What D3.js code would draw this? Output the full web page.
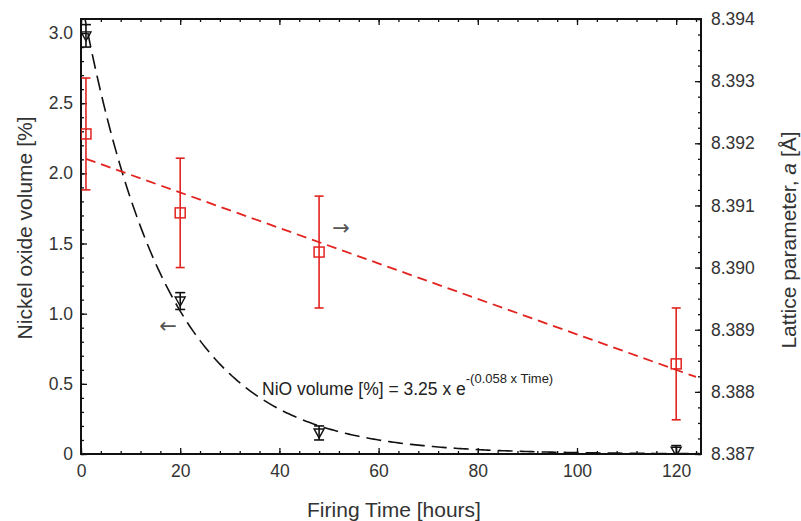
<!DOCTYPE html>
<html>
<head>
<meta charset="utf-8">
<title>NiO volume and lattice parameter vs firing time</title>
<script src="https://cdn.jsdelivr.net/npm/d3@7/dist/d3.min.js"></script>
<style>
  body { margin: 0; background: #fff; }
  text { font-family: "Liberation Sans", Arial, sans-serif; }
</style>
</head>
<body>
<script>
// firing time of each sample [hours]
var times = [1, 20, 48, 120];
// nickel oxide volume [%] (left axis) and its error
var nioVolume = [2.98, 1.09, 0.15, 0.02];
var nioError = [0.08, 0.06, 0.05, 0.04];
// lattice parameter a [Å] (right axis) and its error
var lattice = [8.39215, 8.39088, 8.39025, 8.38845];
var latticeError = [0.0009, 0.00088, 0.0009, 0.0009];
// fitted curves as given /
var expFit = [3.25, 0.058];               // NiO = A * exp(-k * t)
var linFit = [[1, 8.39175], [124, 8.38824]]; // red dashed line end points

var xTicks = [0, 20, 40, 60, 80, 100, 120];
var leftTicks = [0, 0.5, 1.0, 1.5, 2.0, 2.5, 3.0];
var rightTicks = [8.387, 8.388, 8.389, 8.390, 8.391, 8.392, 8.393, 8.394];

var W = 801, H = 521;
var L = 81, R = 701, T = 19, B = 454;
var red = "#e3231f";

var x = d3.scaleLinear().domain([0, 125]).range([L, R]);
var yL = d3.scaleLinear().domain([0, 3.1]).range([B, T]);
var yR = d3.scaleLinear().domain([8.387, 8.394]).range([B, T]);

var svg = d3.select("body").append("svg")
    .attr("width", W).attr("height", H);

svg.append("defs").append("clipPath").attr("id", "plot")
  .append("rect").attr("x", L).attr("y", T).attr("width", R - L).attr("height", B - T);

function style(g) {
  g.select(".domain").remove();
  g.selectAll("line").attr("stroke", "#111").attr("stroke-width", 1.3);
  g.selectAll("text").attr("fill", "#333").attr("font-size", 17.5);
}

// bottom axis with minor ticks
svg.append("g").attr("transform", "translate(0," + B + ")")
  .call(d3.axisBottom(x).tickValues(d3.range(0, 125, 4)).tickSize(-3).tickFormat(""))
  .call(style);
svg.append("g").attr("transform", "translate(0," + B + ")")
  .call(d3.axisBottom(x).tickValues(xTicks).tickSize(-6).tickPadding(11).tickFormat(d3.format("d")))
  .call(style);
// top axis
svg.append("g").attr("transform", "translate(0," + T + ")")
  .call(d3.axisTop(x).tickValues(d3.range(0, 125, 4)).tickSize(-3).tickFormat(""))
  .call(style);
svg.append("g").attr("transform", "translate(0," + T + ")")
  .call(d3.axisTop(x).tickValues(xTicks).tickSize(-6).tickFormat(""))
  .call(style);
// left axis
svg.append("g").attr("transform", "translate(" + L + ",0)")
  .call(d3.axisLeft(yL).tickValues(d3.range(0, 3.1, 0.1)).tickSize(-3).tickFormat(""))
  .call(style);
svg.append("g").attr("transform", "translate(" + L + ",0)")
  .call(d3.axisLeft(yL).tickValues(leftTicks).tickSize(-6).tickPadding(8)
    .tickFormat(function(d) { return d === 0 ? "0" : d3.format(".1f")(d); }))
  .call(style);
// right axis
svg.append("g").attr("transform", "translate(" + R + ",0)")
  .call(d3.axisRight(yR).tickValues(d3.range(0, 29).map(function(i) { return 8.387 + i * 0.00025; }))
    .tickSize(-3).tickFormat(""))
  .call(style);
svg.append("g").attr("transform", "translate(" + R + ",0)")
  .call(d3.axisRight(yR).tickValues(rightTicks).tickSize(-6).tickPadding(10).tickFormat(d3.format(".3f")))
  .call(style);

// frame
svg.append("rect").attr("x", L).attr("y", T).attr("width", R - L).attr("height", B - T)
  .attr("fill", "none").attr("stroke", "#111").attr("stroke-width", 2);

var plot = svg.append("g").attr("clip-path", "url(#plot)");

// exponential fit (black long dashes)
var expPts = d3.range(0.5, 125.01, 0.5).map(function(t) { return [t, expFit[0] * Math.exp(-expFit[1] * t)]; });
plot.append("path").datum(expPts)
  .attr("d", d3.line().x(function(d) { return x(d[0]); }).y(function(d) { return yL(d[1]); }))
  .attr("fill", "none").attr("stroke", "#111").attr("stroke-width", 1.6)
  .attr("stroke-dasharray", "15,7");

// linear fit (red short dashes)
plot.append("path").datum(linFit)
  .attr("d", d3.line().x(function(d) { return x(d[0]); }).y(function(d) { return yR(d[1]); }))
  .attr("fill", "none").attr("stroke", red).attr("stroke-width", 1.8)
  .attr("stroke-dasharray", "10,6");

// error bars
function errorBars(vals, errs, y, color, cap) {
  var g = plot.append("g").attr("stroke", color).attr("stroke-width", 1.6);
  times.forEach(function(t, i) {
    var cx = x(t), y0 = y(vals[i] - errs[i]), y1 = y(vals[i] + errs[i]);
    g.append("line").attr("x1", cx).attr("x2", cx).attr("y1", y0).attr("y2", y1);
    g.append("line").attr("x1", cx - cap).attr("x2", cx + cap).attr("y1", y0).attr("y2", y0);
    g.append("line").attr("x1", cx - cap).attr("x2", cx + cap).attr("y1", y1).attr("y2", y1);
  });
}
errorBars(lattice, latticeError, yR, red, 4.5);
errorBars(nioVolume, nioError, yL, "#111", 5);

// red open squares
plot.selectAll("rect.sq").data(times).enter().append("rect").attr("class", "sq")
  .attr("x", function(d) { return x(d) - 5; })
  .attr("y", function(d, i) { return yR(lattice[i]) - 5; })
  .attr("width", 10).attr("height", 10)
  .attr("fill", "none").attr("stroke", red).attr("stroke-width", 1.5);

// black open down triangles
plot.selectAll("path.tri").data(times).enter().append("path").attr("class", "tri")
  .attr("transform", function(d, i) { return "translate(" + x(d) + "," + yL(nioVolume[i]) + ")"; })
  .attr("d", "M-5,-4L5,-4L0,5Z")
  .attr("fill", "none").attr("stroke", "#111").attr("stroke-width", 1.4);

// direction arrows
svg.append("text").attr("x", 168).attr("y", 333).attr("text-anchor", "middle")
  .style("font-family", "'DejaVu Sans', sans-serif")
  .attr("font-size", 21).attr("fill", "#555").text("\u2190");
svg.append("text").attr("x", 341).attr("y", 235).attr("text-anchor", "middle")
  .style("font-family", "'DejaVu Sans', sans-serif")
  .attr("font-size", 21).attr("fill", "#555").text("\u2192");

// equation
var eq = svg.append("text").attr("x", 262).attr("y", 395).attr("font-size", 17.5).attr("fill", "#222");
eq.append("tspan").text("NiO volume [%] = 3.25 x e");
eq.append("tspan").attr("dy", -12).attr("font-size", 13).text("-(0.058 x Time)");

// axis titles
svg.append("text").attr("x", 394).attr("y", 517).attr("text-anchor", "middle")
  .attr("font-size", 21).attr("fill", "#333").text("Firing Time [hours]");
svg.append("text").attr("transform", "translate(32,228) rotate(-90)").attr("text-anchor", "middle")
  .attr("font-size", 21).attr("fill", "#333").text("Nickel oxide volume [%]");
var rt = svg.append("text").attr("transform", "translate(796,240) rotate(-90)").attr("text-anchor", "middle")
  .attr("font-size", 21).attr("fill", "#333");
rt.append("tspan").text("Lattice parameter, ");
rt.append("tspan").attr("font-style", "italic").text("a");
rt.append("tspan").text(" [\u00c5]");
</script>
</body>
</html>
